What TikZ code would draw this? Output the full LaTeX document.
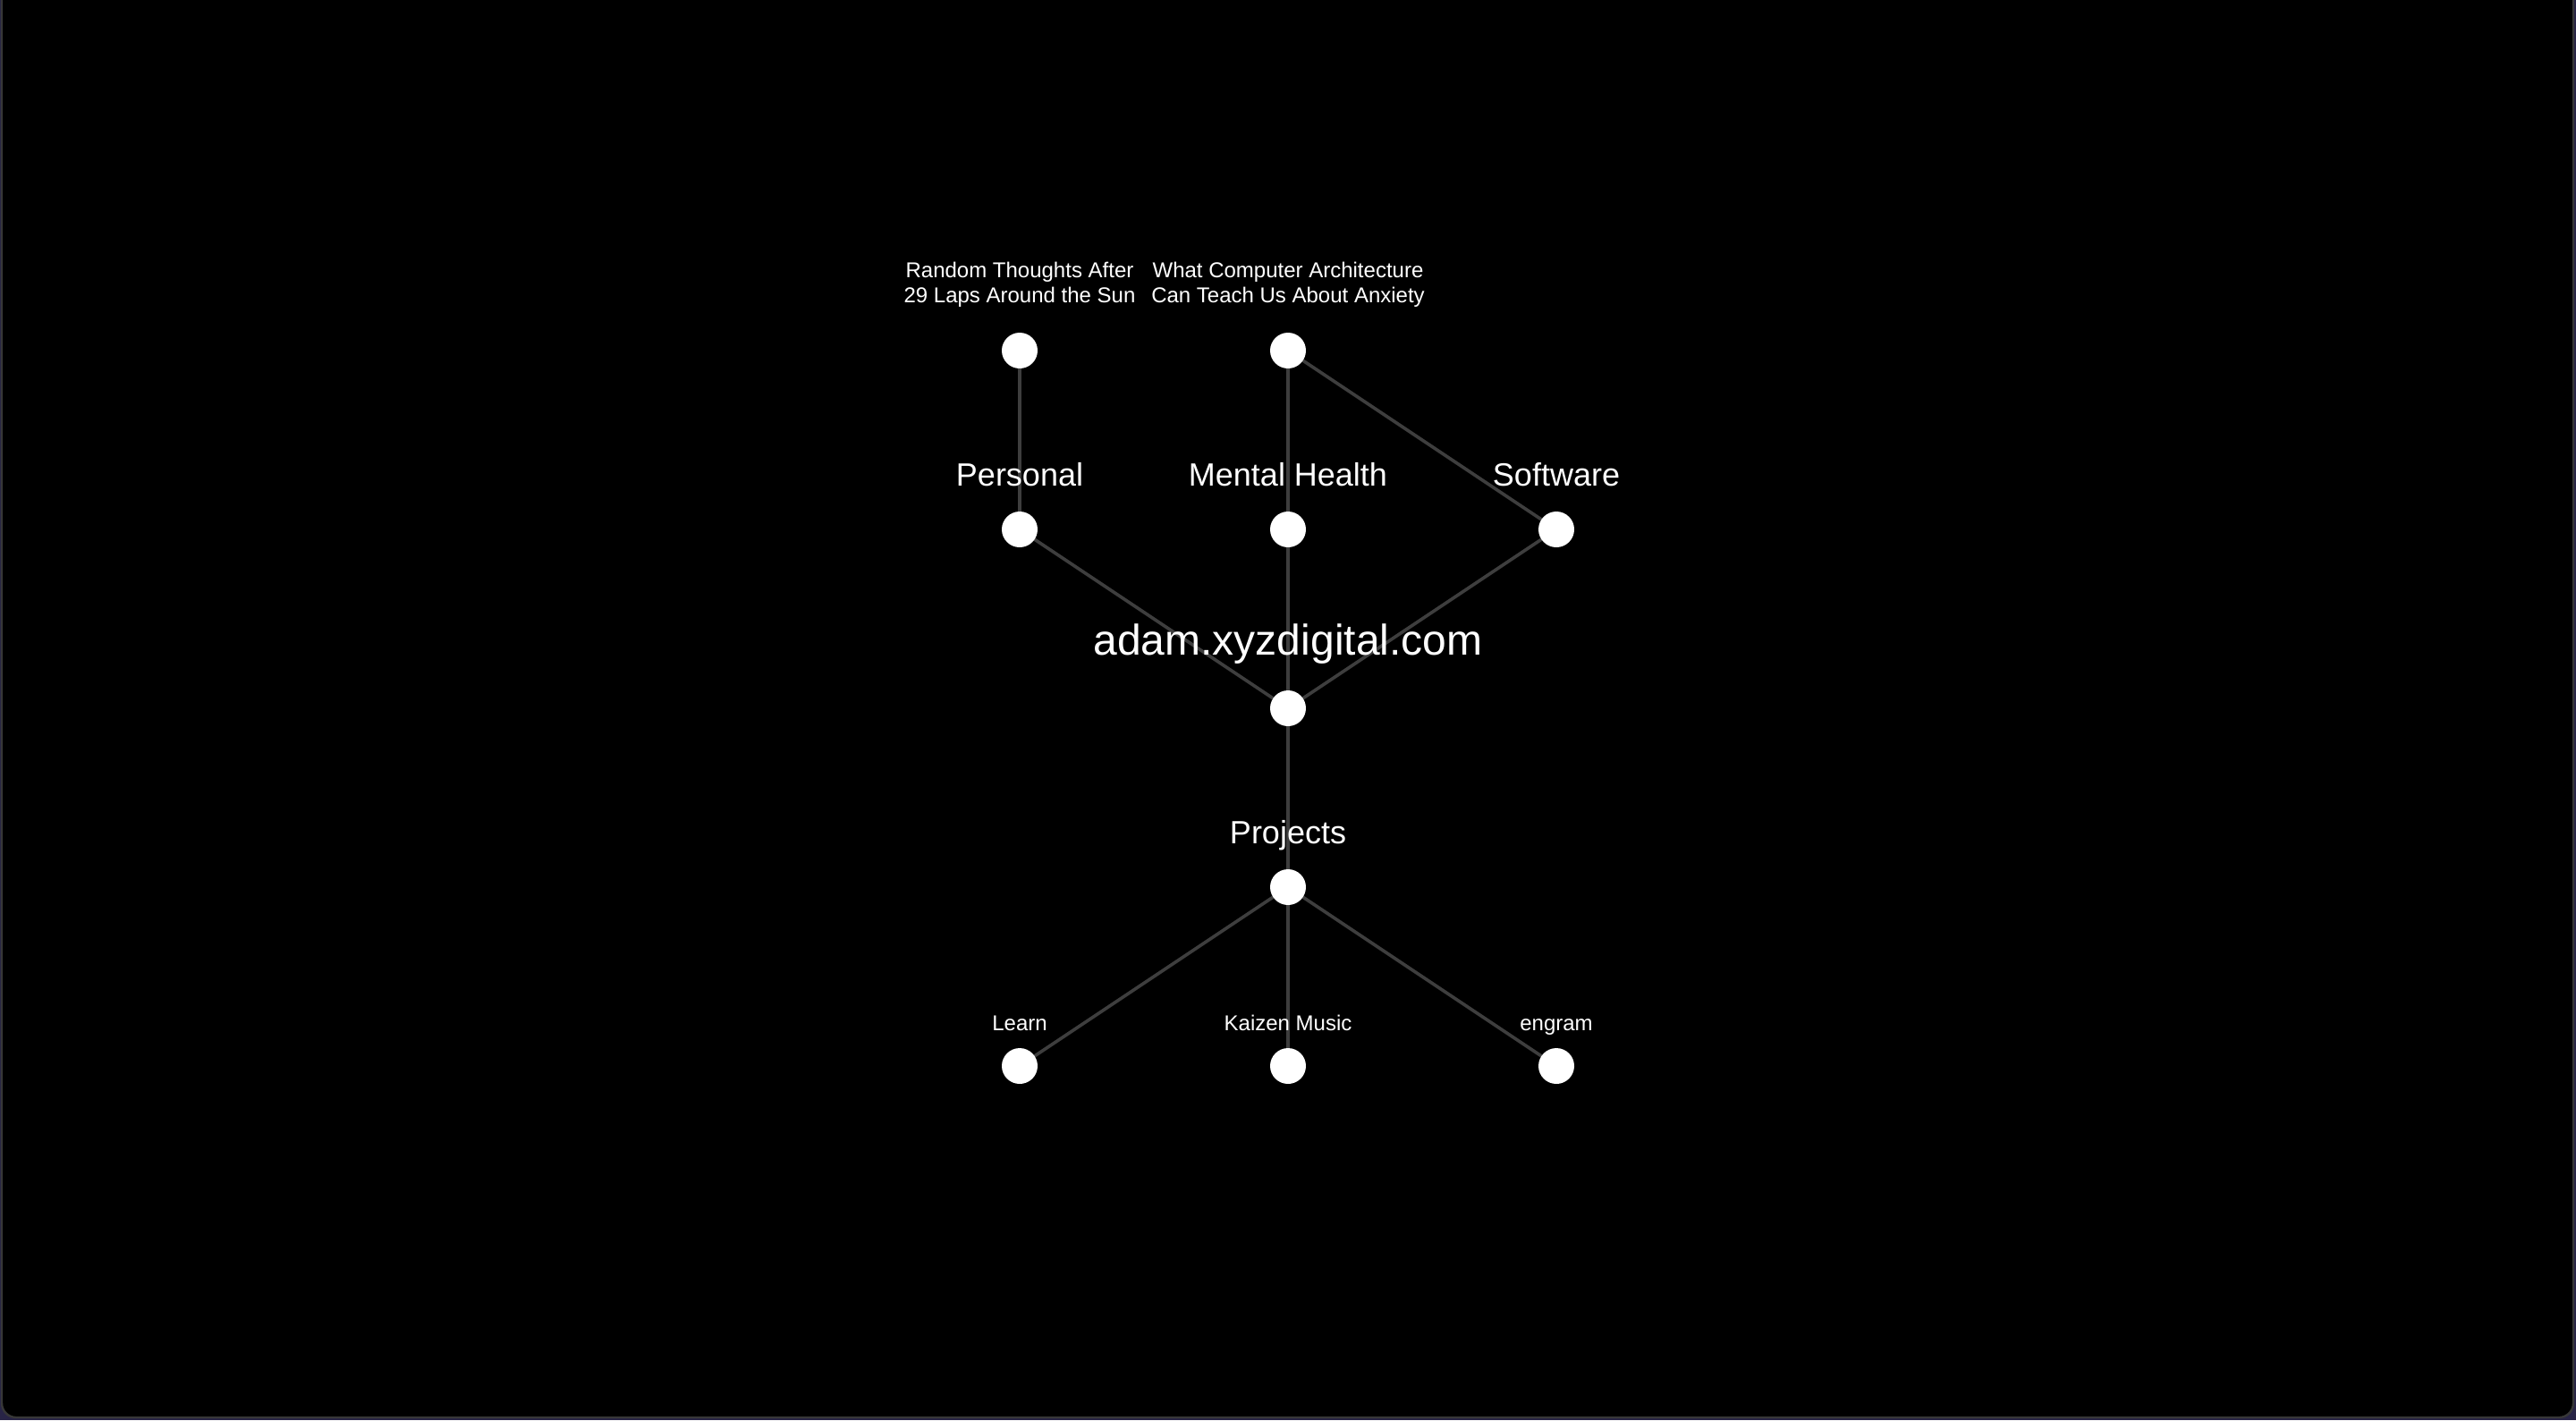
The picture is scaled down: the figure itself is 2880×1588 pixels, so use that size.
\documentclass[tikz,border=0pt]{standalone}
\usepackage{fontspec}
\setmainfont{Liberation Sans}
\pgfdeclarelayer{bg}
\pgfdeclarelayer{edges}
\pgfsetlayers{bg,edges,main}
\definecolor{edgegray}{RGB}{62,62,62}
\definecolor{framegray}{RGB}{55,55,55}
\definecolor{outside}{RGB}{40,36,70}
\tikzset{
  dot/.style={circle, fill=white, draw=none, minimum size=10pt, inner sep=0pt},
  link/.style={draw=edgegray, line width=0.9pt},
  biglabel/.style={text=white, font=\fontsize{12}{14}\selectfont, anchor=base, inner sep=0pt},
  midlabel/.style={text=white, font=\fontsize{9}{11}\selectfont, anchor=base, inner sep=0pt},
  smalllabel/.style={text=white, font=\fontsize{6}{7}\selectfont, anchor=base, inner sep=0pt, align=center},
}
\begin{document}
\begin{tikzpicture}[x=0.25pt, y=-0.25pt]
\useasboundingbox (0,0) rectangle (2880,1588);
\begin{pgfonlayer}{bg}
  \fill[outside] (0,0) rectangle (2880,1588);
  \filldraw[fill=black, draw=framegray, line width=0.6pt, rounded corners=4pt]
    (2,-40) -- (2,1585) -- (2877,1585) -- (2877,-40) -- cycle;
\end{pgfonlayer}

% dots
\node[dot] (rt) at (1140,392) {};
\node[dot] (ca) at (1440,392) {};
\node[dot] (pe) at (1140,592) {};
\node[dot] (mh) at (1440,592) {};
\node[dot] (sw) at (1740,592) {};
\node[dot] (root) at (1440,792) {};
\node[dot] (pr) at (1440,992) {};
\node[dot] (le) at (1140,1192) {};
\node[dot] (km) at (1440,1192) {};
\node[dot] (en) at (1740,1192) {};

% connectors
\begin{pgfonlayer}{edges}
  \draw[link] (rt.center) -- (pe.center);
  \draw[link] (ca.center) -- (mh.center);
  \draw[link] (ca.center) -- (sw.center);
  \draw[link] (pe.center) -- (root.center);
  \draw[link] (mh.center) -- (root.center);
  \draw[link] (sw.center) -- (root.center);
  \draw[link] (root.center) -- (pr.center);
  \draw[link] (pr.center) -- (le.center);
  \draw[link] (pr.center) -- (km.center);
  \draw[link] (pr.center) -- (en.center);
\end{pgfonlayer}

% labels
\node[biglabel] (troot) at (1440,732) {adam.xyzdigital.com};
\node[midlabel] (tpe) at (1140,543) {Personal};
\node[midlabel] (tmh) at (1440,543) {Mental Health};
\node[midlabel] (tsw) at (1740,543) {Software};
\node[midlabel] (tpr) at (1440,943) {Projects};
\node[smalllabel] (tle) at (1140,1152) {Learn};
\node[smalllabel] (tkm) at (1440,1152) {Kaizen Music};
\node[smalllabel] (ten) at (1740,1152) {engram};
\node[smalllabel] (trt) at (1140,338) {Random Thoughts After\\29 Laps Around the Sun};
\node[smalllabel] (tca) at (1440,338) {What Computer Architecture\\Can Teach Us About Anxiety};
\end{tikzpicture}
\end{document}
